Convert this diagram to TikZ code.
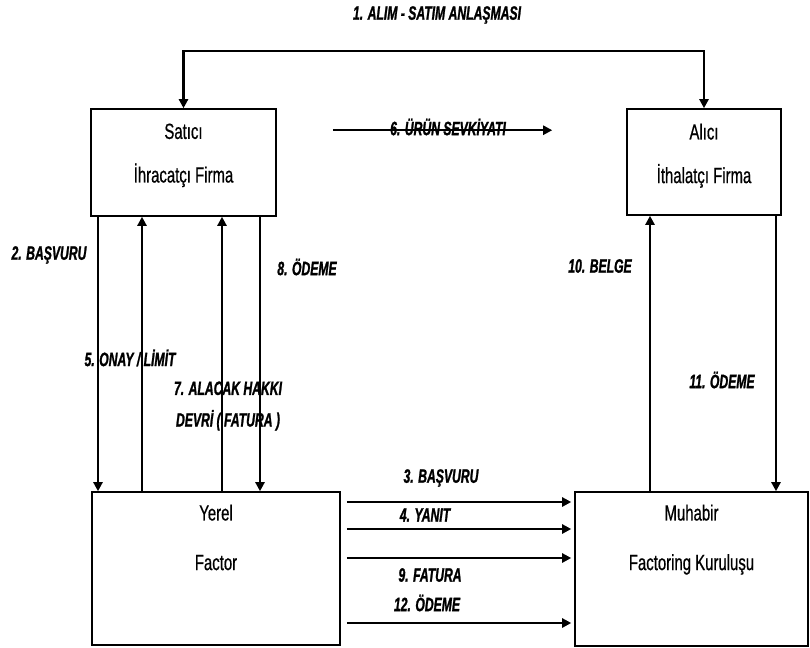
\documentclass[tikz,border=0pt]{standalone}
\usepackage{fontspec}
\setmainfont{Liberation Sans}
\newfontfamily\boxfont[FakeStretch=0.68, FakeBold=0.6]{Liberation Sans}
\newfontfamily\lblfont[FakeStretch=0.63, FakeBold=1.2]{Liberation Sans}
\usetikzlibrary{arrows.meta, positioning, calc}

\begin{document}
\begin{tikzpicture}[x=0.02cm, y=-0.02cm,
	firm/.style={draw, line width=0.9pt, inner sep=0pt},
	firmtxt/.style={font=\boxfont\fontsize{12.5}{14}\selectfont, align=center, inner sep=0pt},
	lbl/.style={font=\lblfont\bfseries\itshape\fontsize{11}{12}\selectfont, inner sep=0pt, align=center},
	flow/.style={line width=1.3pt, -{Triangle[length=1.8mm,width=1.8mm]}}]
	\useasboundingbox (0,0) rectangle (810,648);
	% boxes
	\node[firm, minimum width=3.7cm, minimum height=2.14cm] (sat) at (183.5,162.5) {};
	\node[firm, minimum width=3.08cm, minimum height=2.12cm] (ali) at (704,162) {};
	\node[firm, minimum width=4.96cm, minimum height=3.06cm] (yer) at (216,568.5) {};
	\node[firm, minimum width=4.66cm, minimum height=3.08cm] (muh) at (691.5,569) {};
	\node[firmtxt, below=0.3cm of sat.north] (sattxt) {Satıcı\\[0.38cm]İhracatçı Firma};
	\node[firmtxt, below=0.3cm of ali.north] (alitxt) {Alıcı\\[0.38cm]İthalatçı Firma};
	\node[firmtxt, below=0.26cm of yer.north] (yertxt) {Yerel\\[0.5cm]Factor};
	\node[firmtxt, below=0.26cm of muh.north] (muhtxt) {Muhabir\\[0.5cm]Factoring Kuruluşu};
	% top
	\draw[line width=1.3pt, {Triangle[length=1.8mm,width=1.8mm]}-{Triangle[length=1.8mm,width=1.8mm]}] (sat.north) -- ++(0,-57) -| (ali.north);
	\node[lbl] (anlasma) at (437,15) {1. ALIM - SATIM ANLAŞMASI};
	\draw[flow] ($(sat.north east)+(56,22)$) -- ($(ali.north west)+(-74,22)$);
	\node[lbl] (sevk) at (448,127) {6. ÜRÜN SEVKİYATI};
	% seller <-> local factor
	\draw[flow] (sat.south -| 98,0) -- (yer.north -| 98,0);
	\draw[flow] (yer.north -| 142,0) -- (sat.south -| 142,0);
	\draw[flow] (yer.north -| 222,0) -- (sat.south -| 222,0);
	\draw[flow] (sat.south -| 260,0) -- (yer.north -| 260,0);
	\node[lbl] (basv) at (49,255) {2. BAŞVURU};
	\node[lbl] (onay) at (130,358) {5. ONAY / LİMİT};
	\node[lbl] (devir) at (228,406) {7. ALACAK HAKKI\\[6pt]DEVRİ ( FATURA )};
	\node[lbl] (odeme) at (307,267) {8. ÖDEME};
	% buyer <-> correspondent
	\draw[flow] (muh.north -| 650,0) -- (ali.south -| 650,0);
	\draw[flow] (ali.south -| 776,0) -- (muh.north -| 776,0);
	\node[lbl] (belge) at (600,266) {10. BELGE};
	\node[lbl] (odeme2) at (722,380) {11. ÖDEME};
	% local factor -> correspondent
	\foreach \yy in {502,529,558,623}
		\draw[flow] ($(yer.east |- 0,\yy)+(6,0)$) -- ($(muh.west |- 0,\yy)+(-3,0)$);
	\node[lbl] (basv2) at (441,478) {3. BAŞVURU};
	\node[lbl] (yanit) at (425,515) {4. YANIT};
	\node[lbl] (fatura) at (430,575) {9. FATURA};
	\node[lbl] (odeme3) at (427,603) {12. ÖDEME};
\end{tikzpicture}
\end{document}
